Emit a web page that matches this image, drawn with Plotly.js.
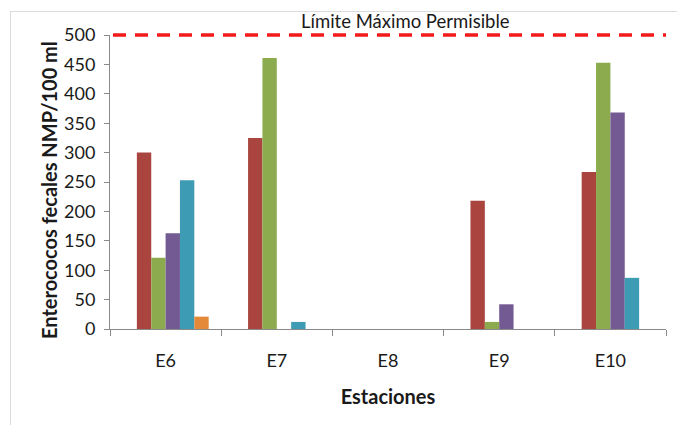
<!DOCTYPE html>
<html>
<head>
<meta charset="utf-8">
<script src="https://cdn.plot.ly/plotly-3.0.1.min.js"></script>
<style>
html,body{margin:0;padding:0;background:#fff;}
#chart{width:677px;height:425px;}
</style>
</head>
<body>
<div id="chart"></div>
<script>
// Data
var estaciones = ["E6", "E7", "E8", "E9", "E10"];
var serie1 = [0, 0, 0, 0, 0];        // first series (no visible bars)
var serie2 = [300, 325, 0, 218, 267];
var serie3 = [121, 461, 0, 12, 453];
var serie4 = [163, 0, 0, 42, 368];
var serie5 = [253, 12, 0, 0, 87];
var serie6 = [21, 0, 0, 0, 0];
var limiteMaximo = 500;
var limiteTexto = "Límite Máximo Permisible";
var yTitulo = "Enterococos fecales NMP/100 ml";
var xTitulo = "Estaciones";
var yTicks = [0, 50, 100, 150, 200, 250, 300, 350, 400, 450, 500];
var yRange = [0, 500];

var series = [serie1, serie2, serie3, serie4, serie5, serie6];
var colores = ["#4F81BD", "#A9443F", "#8CAB4F", "#735A93", "#3D9BB4", "#E4883A"];

var W = 677, H = 425;
var mL = 110, mR = 11, mT = 35, mB = 96;
var plotW = W - mL - mR, plotH = H - mT - mB;
function px2x(px){ return (px - mL) / plotW; }
function px2y(py){ return (H - mB - py) / plotH; }
// limit line in paper units (so it is not clipped at the plot edge)
var limiteY = (limiteMaximo - yRange[0]) / (yRange[1] - yRange[0]);

var traces = series.map(function(s, i){
  return {
    type: "bar",
    x: estaciones,
    y: s,
    marker: {color: colores[i], line: {width: 0}},
    hoverinfo: "x+y",
    showlegend: false
  };
});

var font = "Lato, 'Liberation Sans', Arial, sans-serif";

var layout = {
  width: W, height: H,
  margin: {l: mL, r: mR, t: mT, b: mB, pad: 0},
  paper_bgcolor: "#ffffff",
  plot_bgcolor: "#ffffff",
  barmode: "group",
  bargap: 0.225,
  bargroupgap: 0,
  showlegend: false,
  font: {family: font, color: "#1a1a1a"},
  xaxis: {
    type: "category",
    showline: true, linecolor: "#8a8a8a", linewidth: 1,
    ticks: "outside", tickson: "boundaries", ticklen: 6, tickcolor: "#8a8a8a",
    showgrid: false, zeroline: false,
    tickfont: {family: font, size: 18, color: "#1a1a1a"},
    ticklabelstandoff: 15,
    title: {text: xTitulo, font: {family: font, size: 20, color: "#1a1a1a", weight: "bold"}, standoff: 20}
  },
  yaxis: {
    range: yRange,
    tickvals: yTicks,
    ticktext: yTicks.map(String),
    showline: true, linecolor: "#8a8a8a", linewidth: 1,
    ticks: "outside", ticklen: 5, tickcolor: "#8a8a8a",
    showgrid: false, zeroline: false,
    tickfont: {family: font, size: 18, color: "#1a1a1a"},
    ticklabelstandoff: 5
  },
  shapes: [
    {type: "line", xref: "paper", yref: "paper", x0: px2x(113), x1: 1, y0: limiteY, y1: limiteY,
     line: {color: "#F21A1A", width: 3.5, dash: "13px,9px"}},
    {type: "line", xref: "paper", yref: "paper", x0: px2x(10.5), x1: px2x(10.5), y0: px2y(11), y1: px2y(430),
     line: {color: "#dcdcdc", width: 1}},
    {type: "line", xref: "paper", yref: "paper", x0: px2x(10.5), x1: px2x(690), y0: px2y(11.5), y1: px2y(11.5),
     line: {color: "#dcdcdc", width: 1}}
  ],
  annotations: [
    {text: limiteTexto, xref: "paper", yref: "paper", x: px2x(405), y: limiteY,
     xanchor: "center", yanchor: "bottom", yshift: 1, showarrow: false,
     font: {family: font, size: 18.5, color: "#1a1a1a"}},
    {text: yTitulo, xref: "paper", yref: "paper", x: px2x(49), y: px2y(190),
     xanchor: "center", yanchor: "middle", textangle: -90, showarrow: false,
     font: {family: font, size: 20, color: "#1a1a1a", weight: "bold"}}
  ]
};

Plotly.newPlot("chart", traces, layout, {displayModeBar: false, staticPlot: true});
</script>
</body>
</html>
